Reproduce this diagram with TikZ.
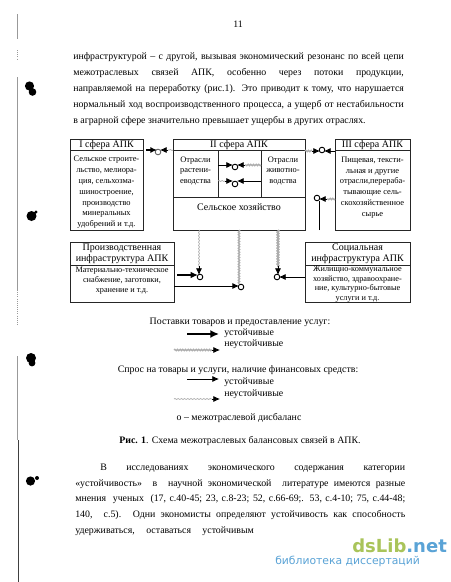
\documentclass[tikz,border=0pt]{standalone}
\usepackage{fontspec}
\setmainfont{Liberation Serif}
\newfontfamily\wmfont{DejaVu Sans}
\usetikzlibrary{arrows.meta,decorations.pathmorphing}
\definecolor{wavegrey}{gray}{0.68}
\definecolor{wmgreen}{HTML}{A9C45A}
\definecolor{wmblue}{HTML}{5AA3D6}
\newcommand{\jl}[2]{\makebox[#1pt][s]{#2}}
\tikzset{
  x=0.75pt,y=-0.75pt,
  bx/.style={draw=black!85,line width=0.5pt},
  hd/.style={anchor=center,font=\fontsize{7.5}{8.3}\selectfont,inner sep=0pt,align=center},
  bd/.style={anchor=center,font=\fontsize{6.3}{8.1}\selectfont,inner sep=0pt,align=center},
  bdw/.style={anchor=center,inner sep=0pt,align=center,font=\fontsize{6.2}{7.6}\selectfont},
  para/.style={anchor=west,font=\fontsize{7.4}{8.5}\selectfont,inner sep=0pt},
  leg/.style={anchor=center,font=\fontsize{7.4}{8.5}\selectfont,inner sep=0pt},
  legl/.style={anchor=west,font=\fontsize{7.4}{8.5}\selectfont,inner sep=0pt},
  jct/.style={circle,draw=black,line width=0.7pt,fill=white,minimum size=4.2pt,inner sep=0pt},
  solidthin/.style={line width=0.6pt,-{Latex[length=5pt,width=4.6pt]}},
  wavy/.style={draw=wavegrey,line width=1pt,decorate,decoration={snake,amplitude=0.5pt,segment length=2pt}},
  wavythin/.style={draw=wavegrey,line width=0.5pt,decorate,decoration={snake,amplitude=0.4pt,segment length=2.4pt}},
  tipblack/.style={-{Latex[length=5pt,width=4.6pt]},black,line width=0.6pt},
  blot/.style={fill=black,draw=none},
  margin/.style={draw=black!40,line width=0.6pt},
}
\begin{document}
\begin{tikzpicture}
\useasboundingbox (0,0) rectangle (450,582);
\fill[white] (0,0) rectangle (450,582);
% margin marks
\draw[margin] (17.5,14) -- (17.5,39);
\draw[margin,densely dotted] (17.5,50) -- (17.5,60);
\draw[margin] (17.5,77) -- (17.5,290);
\draw[margin,densely dotted] (17.5,290) -- (17.5,325);
\draw[margin] (17.5,356) -- (17.5,440);
\draw[draw=black!75,line width=0.5pt] (18,440) -- (18,582);
\fill[blot] (29.5,86) circle (4.6) (32.5,92) circle (3.8);
\fill[blot] (31.5,216) circle (5) (36,212) circle (1.6);
\fill[blot] (31,358) circle (5) (32,363) circle (3.4);
\fill[blot] (30.5,481) circle (4.6) (37,478) circle (2);
% page number
\node[para,anchor=center] (pg) at (238,24) {11};
% top paragraph
\node[para] (t1) at (73,57) {\jl{248}{инфраструктурой – с другой, вызывая экономический резонанс по всей цепи}};
\node[para] (t2) at (73,73) {\jl{248}{межотраслевых связей АПК, особенно через потоки продукции,}};
\node[para] (t3) at (73,89) {\jl{248}{направляемой на переработку (рис.1). Это приводит к тому, что нарушается}};
\node[para] (t4) at (73,105) {\jl{248}{нормальный ход воспроизводственного процесса, а ущерб от нестабильности}};
\node[para] (t5) at (73,121) {в аграрной сфере значительно превышает ущербы в других отраслях.};
% boxes
\draw[bx] (70,139) rectangle (143,230);
\draw[bx] (70,150) -- (143,150);
\node[hd] (h1) at (106.5,145) {I сфера АПК};
\node[bd] (b1) at (106.5,192.5) {Сельское строите-\\льство, мелиора-\\ция, сельхозма-\\шиностроение,\\производство\\минеральных\\удобрений и т.д.};
\draw[bx] (173,139) rectangle (305,230);
\draw[bx] (173,150) -- (305,150);
\draw[bx] (173,197) -- (305,197);
\draw[bx] (218,150) -- (218,197);
\draw[bx] (261,150) -- (261,197);
\node[hd] (h2) at (239,145) {II сфера АПК};
\node[bd] (b2a) at (195.5,171) {Отрасли\\растени-\\еводства};
\node[bd] (b2b) at (283,171) {Отрасли\\животно-\\водства};
\node[hd] (b2c) at (239,207) {Сельское хозяйство};
\draw[bx] (335,139) rectangle (410,230);
\draw[bx] (335,150) -- (410,150);
\node[hd] (h3) at (372.5,145) {III сфера АПК};
\node[bd] (b3) at (372.5,187.5) {Пищевая, тексти-\\льная и другие\\отрасли,перераба-\\тывающие сель-\\скохозяйственное\\сырье};
\draw[bx] (70,242) rectangle (174,302);
\draw[bx] (70,265) -- (174,265);
\node[hd] (h4) at (122,254) {Производственная\\инфраструктура АПК};
\node[bdw] (b4) at (122,280.5) {Материально-техническое\\снабжение, заготовки,\\хранение и т.д.};
\draw[bx] (305,242) rectangle (410,302);
\draw[bx] (305,265) -- (410,265);
\node[hd] (h5) at (357.5,254) {Социальная\\инфраструктура АПК};
\node[bdw,font=\fontsize{6.2}{7.1}\selectfont] (b5) at (357.5,284) {Жилищно-коммунальное\\хозяйство, здравоохране-\\ние, культурно-бытовые\\услуги и т.д.};
% junctions
\node[jct,draw=black!60] (j1) at (158,152) {};
\coordinate (j1a) at (146,150); \coordinate (j1b) at (173,150);
\draw[wavythin] (j1b) -- (168,150);
\draw[line width=1.1pt,-{Latex[length=5pt,width=4.6pt]}] (j1a) -- (157,150);
\draw[tipblack] (168,150) -- (160,150);
\node[jct] (j2) at (235,167) {};
\coordinate (j2a) at (218,165); \coordinate (j2b) at (261,165);
\draw[solidthin] (j2a) -- (233,165);
\draw[wavy] (j2b) -- (245,165);
\draw[tipblack] (245,165) -- (237,165);
\node[jct] (j3) at (235,184) {};
\coordinate (j3a) at (218,181); \coordinate (j3b) at (261,181);
\draw[wavythin] (j3a) -- (225,181);
\draw[tipblack] (225,181) -- (233,181);
\draw[solidthin] (j3b) -- (237,181);
\node[jct] (j4) at (322,150) {};
\coordinate (j4a) at (305,151); \coordinate (j4b) at (335,151);
\draw[wavy] (j4a) -- (312,151);
\draw[tipblack] (312,151) -- (320,151);
\draw[solidthin] (j4b) -- (324,151);
\node[jct] (j5) at (317,198) {};
\coordinate (j5a) at (335,199); \coordinate (j5b) at (319,230);
\draw[wavy] (j5a) -- (327,199);
\draw[tipblack] (327,199) -- (319,199);
\draw[line width=0.6pt] (j5b) -- (319,200.5);
\node[jct] (j6) at (200,277) {};
\coordinate (j6a) at (199,230); \coordinate (j6b) at (177,275);
\draw[wavythin] (j6a) -- (199,267);
\draw[tipblack] (199,266) -- (199,275);
\draw[line width=1.2pt,-{Latex[length=5.5pt,width=5pt]}] (j6b) -- (198,275);
\node[jct] (j7) at (241,287) {};
\coordinate (j7a) at (239,230); \coordinate (j7b) at (174,286);
\draw[wavy] (j7a) -- (239,284);
\draw[line width=0.7pt,-{Latex[length=5pt,width=4.6pt]}] (j7b) -- (239,286);
\node[jct] (j8) at (277,277) {};
\coordinate (j8a) at (278,230); \coordinate (j8b) at (305,277);
\draw[wavy,line width=1.4pt] (j8a) -- (278,267);
\draw[tipblack] (278,266) -- (278,275);
\draw[solidthin] (j8b) -- (279,277);
% legend
\node[leg] (l1) at (240,322) {Поставки товаров и предоставление услуг:};
\coordinate (a1) at (187,334); \coordinate (a1e) at (219,334);
\draw[line width=1.5pt,-{Latex[length=6.5pt,width=6pt]}] (a1) -- (a1e);
\node[legl] (l2) at (224,333) {устойчивые};
\coordinate (a2) at (174,350); \coordinate (a2e) at (212,350); \coordinate (a2t) at (220,350);
\draw[wavy] (a2) -- (a2e);
\draw[tipblack] (a2e) -- (a2t);
\node[legl] (l3) at (224,344) {неустойчивые};
\node[leg] (l4) at (238,370) {Спрос на товары и услуги, наличие финансовых средств:};
\coordinate (a3) at (187,379); \coordinate (a3e) at (219,379);
\draw[solidthin] (a3) -- (a3e);
\node[legl] (l5) at (224,382) {устойчивые};
\coordinate (a4) at (174,399); \coordinate (a4e) at (212,399); \coordinate (a4t) at (220,399);
\draw[wavythin] (a4) -- (a4e);
\draw[tipblack] (a4e) -- (a4t);
\node[legl] (l6) at (224,394) {неустойчивые};
\node[leg] (l7) at (239,418) {о – межотраслевой дисбаланс};
\node[leg] (cap) at (240,441) {\textbf{Рис. 1}. Схема межотраслевых балансовых связей в АПК.};
% bottom paragraph
\node[para] (p1) at (100,468) {\jl{228.7}{В\hfill исследованиях\hfill экономического\hfill содержания\hfill категории}};
\node[para] (p2) at (75,484) {\jl{247.5}{«устойчивость» \ в \ научной экономической \ литературе имеются разные}};
\node[para] (p3) at (75,499) {\jl{247.5}{мнения \ ученых \ (17, с.40-45; 23, с.8-23; 52, с.66-69;. 53, с.4-10; 75, с.44-48;}};
\node[para] (p4) at (75,515) {\jl{247.5}{140, \ с.5). Одни экономисты определяют устойчивость как способность}};
\node[para] (p5) at (75,531) {\jl{134}{удерживаться,\hfill оставаться\hfill устойчивым}};
% watermark
\node[anchor=west,inner sep=0pt,font=\wmfont\bfseries\fontsize{13.5}{14}\selectfont] (wm1) at (352,546) {\textcolor{wmgreen}{dsLib}\textcolor{wmblue}{.net}};
\node[anchor=west,inner sep=0pt,font=\wmfont\fontsize{8.1}{9}\selectfont,text=wmblue] (wm2) at (275,561) {библиотека диссертаций};
\end{tikzpicture}
\end{document}
